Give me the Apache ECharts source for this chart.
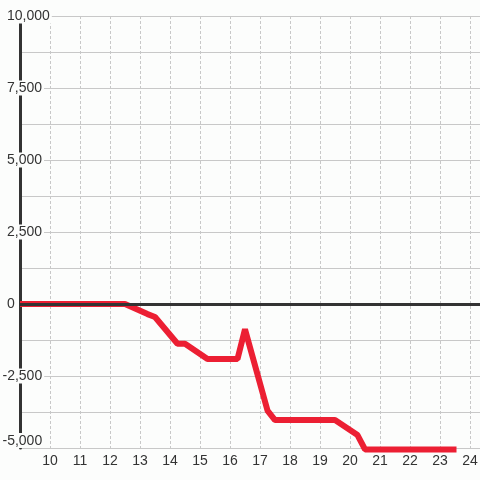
<!DOCTYPE html>
<html>
<head>
<meta charset="utf-8">
<script src="https://cdn.jsdelivr.net/npm/echarts@6/dist/echarts.min.js"></script>
<style>
html,body{margin:0;padding:0;background:#fcfdfc;}
#c{width:480px;height:480px;}
</style>
</head>
<body>
<div id="c"></div>
<script>
var hours = [9, 12.5, 13.25, 13.5, 14.25, 14.5, 15.25, 16.25, 16.5, 17.25, 17.5, 19.5, 20.25, 20.5, 23.55];
var values = [0, 0, -350, -450, -1380, -1380, -1910, -1910, -880, -3700, -4030, -4030, -4550, -5050, -5050];
var yTicks = [-5000, -2500, 0, 2500, 5000, 7500, 10000];
var xTicks = [10, 11, 12, 13, 14, 15, 16, 17, 18, 19, 20, 21, 22, 23, 24];

var BG = '#fcfdfc';
var FONT = '"Liberation Sans", Arial, sans-serif';
var chart = echarts.init(document.getElementById('c'), null, {renderer: 'canvas'});
chart.setOption({
  backgroundColor: BG,
  animation: false,
  grid: {left: 20, right: 0, top: 16, bottom: 32, containLabel: false, outerBoundsMode: 'none'},
  xAxis: {
    type: 'value', min: 9, max: 9 + 460 / 30, interval: 1,
    axisLine: {show: false}, axisTick: {show: false},
    splitLine: {show: true, lineStyle: {color: '#c8c8c8', width: 1, type: [3, 2]}},
    axisLabel: {
      color: '#333', fontSize: 14, fontFamily: FONT, margin: 6,
      formatter: function (v) { return xTicks.indexOf(v) >= 0 ? String(v) : ''; }
    }
  },
  yAxis: {
    type: 'value', min: yTicks[0], max: yTicks[yTicks.length - 1], interval: 2500,
    axisLine: {show: true, lineStyle: {color: '#333', width: 3}},
    axisTick: {show: false},
    splitLine: {show: true, lineStyle: {color: '#c8c8c8', width: 1}},
    minorTick: {show: false, splitNumber: 2},
    minorSplitLine: {show: true, lineStyle: {color: '#c8c8c8', width: 1}},
    axisLabel: {
      align: 'left', margin: 18, verticalAlignMinLabel: 'bottom',
      color: '#333', fontSize: 14, fontFamily: FONT,
      formatter: function (v) {
        if (yTicks.indexOf(v) < 0) return '';
        var t = v.toLocaleString('en-US');
        return v < 0 ? '{n|' + t + '}' : '{p|' + t + '}';
      },
      rich: {
        n: {color: '#333', fontSize: 14, fontFamily: FONT, backgroundColor: BG, padding: [1, 2, 0, 0.5]},
        p: {color: '#333', fontSize: 14, fontFamily: FONT, backgroundColor: BG, padding: [1, 2, 0, 5]}
      }
    }
  },
  series: [
    {
      type: 'line', data: [], z: 2, silent: true,
      markLine: {
        silent: true, symbol: ['none', 'none'], label: {show: false},
        lineStyle: {color: '#333', width: 3, type: 'solid'},
        data: [{yAxis: 0}]
      }
    },
    {
      type: 'line', z: 3, clip: false, showSymbol: false, symbol: 'none',
      lineStyle: {color: '#ec1f33', width: 6, join: 'bevel'},
      data: hours.map(function (h, i) { return [h, values[i]]; })
    }
  ]
});
</script>
</body>
</html>
